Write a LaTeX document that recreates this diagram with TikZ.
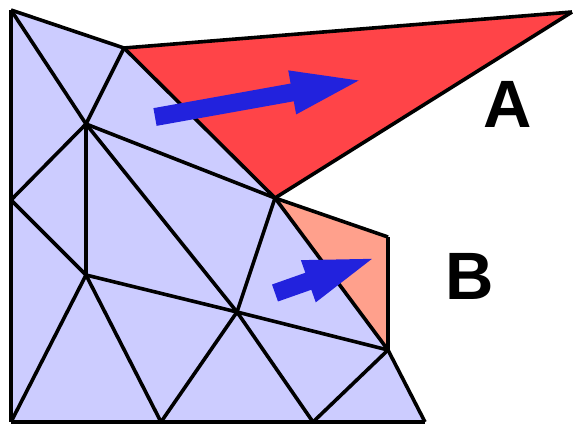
\documentclass[tikz,border=0pt]{standalone}
\usepackage{fontspec}
\setsansfont{Liberation Sans}
\usetikzlibrary{arrows.meta}
\definecolor{meshblue}{RGB}{204, 204, 255}
\definecolor{cellred}{RGB}{255, 68, 72}
\definecolor{cellsalmon}{RGB}{255, 160, 140}
\definecolor{arrowblue}{RGB}{34, 34, 221}

\begin{document}
\begin{tikzpicture}[x=1pt, y=-1pt, line join=round,
  edge/.style={black, line width=3.6pt},
  velo/.style={arrowblue, line width=18pt, -{Triangle[length=76pt, width=38pt]}},
  lbl/.style={font=\sffamily\bfseries\fontsize{67}{67}\selectfont}]
\useasboundingbox (0,0) rectangle (574,426);
% mesh vertices
\coordinate (p1) at (11,10);
\coordinate (p2) at (124,48);
\coordinate (p3) at (86,124);
\coordinate (p4) at (11,200);
\coordinate (p5) at (86,275);
\coordinate (p6) at (275,198);
\coordinate (p7) at (237,312);
\coordinate (p8) at (388,350);
\coordinate (p9) at (388,237);
\coordinate (pa) at (572,12);
\coordinate (q1) at (11,422);
\coordinate (q2) at (161,422);
\coordinate (q3) at (313,422);
\coordinate (q4) at (425,422);
% cells
\fill[meshblue] (p1) -- (p2) -- (p6) -- (p8) -- (q4) -- (q1) -- cycle;
\fill[cellred] (p2) -- (pa) -- (p6) -- cycle;
\fill[cellsalmon] (p6) -- (p9) -- (p8) -- cycle;
% edges
\foreach \a/\b in {p1/p2, p2/pa, pa/p6, p2/p6, p1/p3, p2/p3, p3/p4, p3/p5,
  p3/p6, p3/p7, p4/p5, p5/p7, p5/q1, p5/q2, p7/p6, p7/p8, p7/q2, p7/q3,
  p6/p9, p9/p8, p6/p8, p8/q3, p8/q4, q1/q4, p1/q1}
  \draw[edge] (\a) -- (\b);
% velocities
\coordinate (ta) at (155,117);
\coordinate (ha) at (367,79);
\coordinate (tb) at (275,293);
\coordinate (hb) at (380,256);
\draw[velo] (ta) -- (ha);
\draw[velo] (tb) -- (hb);
\node[lbl] (la) at (508,104) {A};
\node[lbl] (lb) at (470,276) {B};
\end{tikzpicture}
\end{document}
